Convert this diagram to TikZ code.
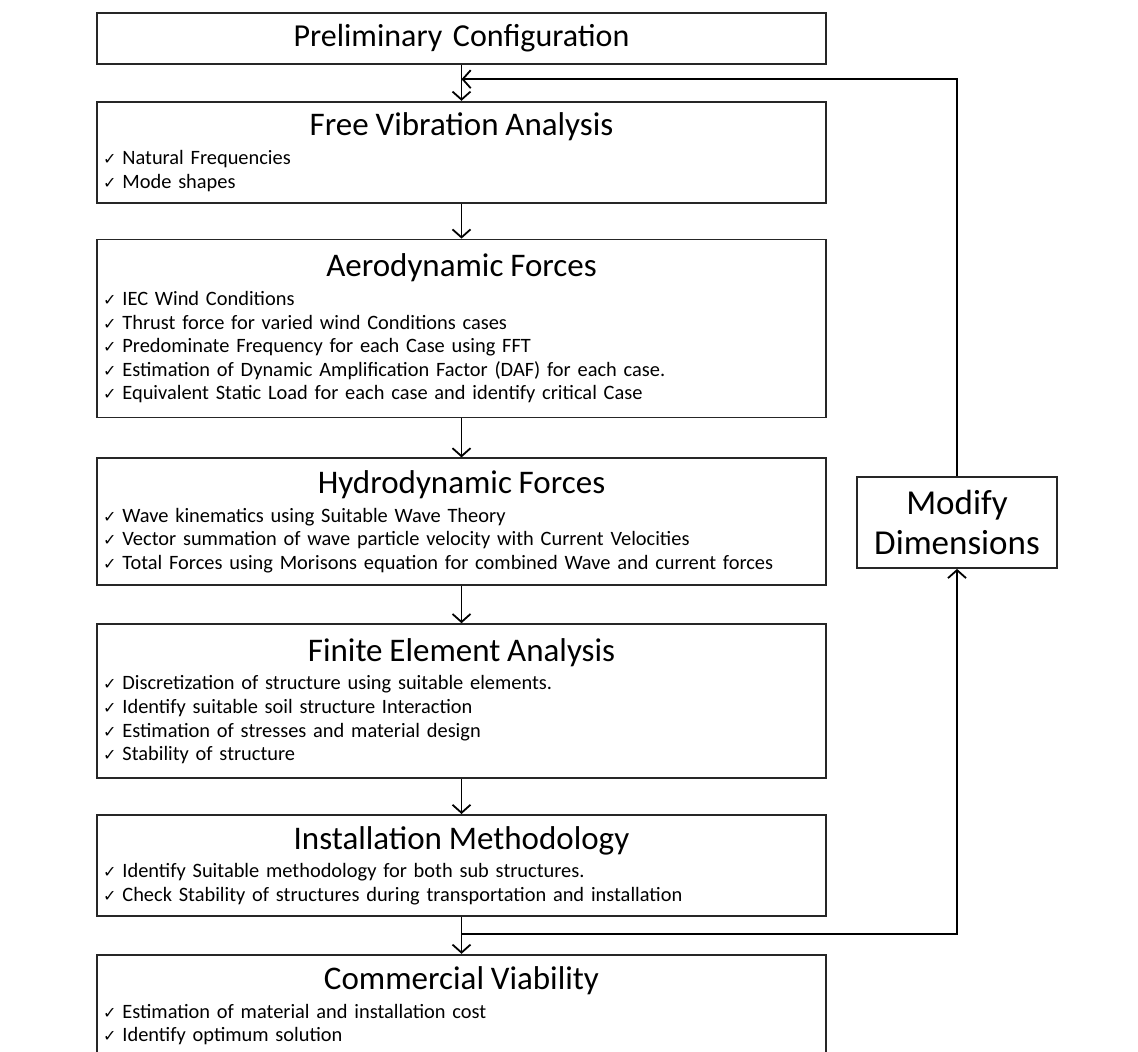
\documentclass[tikz,border=0pt]{standalone}
\usepackage{fontspec}
\setmainfont{Carlito}
\newfontfamily\symfont{DejaVu Sans}
\usepackage{tikz}
\usetikzlibrary{arrows,arrows.meta,shapes,calc}
\usetikzlibrary{positioning}
\newcommand{\tick}{{\symfont\fontsize{8}{12}\selectfont ✓}\hspace{3pt}}
\newcommand{\stagetitle}[1]{{\centering\fontsize{16.5}{18}\selectfont #1\par}\vspace{2.5pt}}
\tikzstyle{box_style0}=[draw=black!85, line width=0.9pt, anchor=north,
inner xsep=3pt, inner ysep=2pt]
\tikzstyle{box_stage}=[box_style0, text width=358.5pt, font=\fontsize{10.2}{11.8}\selectfont]
\tikzstyle{box_modify}=[box_style0, anchor=center, minimum width=100pt, minimum height=45.5pt,
align=center, font=\fontsize{17.5}{20}\selectfont]
\tikzstyle{myarrow}=[-{Straight Barb[length=4pt,width=9pt]}, line width=0.9pt]

\begin{document}
\begin{tikzpicture}[x=0.5pt, y=-0.5pt]
		\useasboundingbox (0,0) rectangle (1138,1052);
		\clip (0,0) rectangle (1138,1052);

		\node[box_stage, minimum height=25.5pt, font=\fontsize{16}{18}\selectfont, align=center] (prelim) at (461.5,12) {Preliminary Configuration} ;

		\node[box_stage, minimum height=50.5pt, below=18pt of prelim] (free) {\stagetitle{Free Vibration Analysis}
			\tick Natural Frequencies\par
			\tick Mode shapes} ;
		\draw[myarrow] (prelim) -- (free) ;

		\node[box_stage, minimum height=89pt, below=17.5pt of free] (aero) {\stagetitle{Aerodynamic Forces}
			\tick IEC Wind Conditions\par
			\tick Thrust force for varied wind Conditions cases\par
			\tick Predominate Frequency for each Case using FFT\par
			\tick Estimation of Dynamic Amplification Factor (DAF) for each case.\par
			\tick Equivalent Static Load for each case and identify critical Case} ;
		\draw[myarrow] (free) -- (aero) ;

		\node[box_stage, minimum height=63.5pt, below=19.5pt of aero] (hydro) {\stagetitle{Hydrodynamic Forces}
			\tick Wave kinematics using Suitable Wave Theory\par
			\tick Vector summation of wave particle velocity with Current Velocities\par
			\tick Total Forces using Morisons equation for combined Wave and current forces} ;
		\draw[myarrow] (aero) -- (hydro) ;

		\node[box_stage, minimum height=77pt, below=18.5pt of hydro] (fea) {\stagetitle{Finite Element Analysis}
			\tick Discretization of structure using suitable elements.\par
			\tick Identify suitable soil structure Interaction\par
			\tick Estimation of stresses and material design\par
			\tick Stability of structure} ;
		\draw[myarrow] (hydro) -- (fea) ;

		\node[box_stage, minimum height=50.5pt, below=17.5pt of fea] (install) {\stagetitle{Installation Methodology}
			\tick Identify Suitable methodology for both sub structures.\par
			\tick Check Stability of structures during transportation and installation} ;
		\draw[myarrow] (fea) -- (install) ;

		\node[box_stage, minimum height=51pt, below=18.5pt of install] (commercial) {\stagetitle{Commercial Viability}
			\tick Estimation of material and installation cost\par
			\tick Identify optimum solution} ;
		\draw[myarrow] (install) -- (commercial) ;

		% loop back through the modify box
		\node[box_modify] (modify) at (957,522.5) {Modify\\Dimensions} ;
		\coordinate (split) at ($(install.south)!0.47!(commercial.north)$) ;
		\coordinate (join) at ($(prelim.south)!0.4!(free.north)$) ;
		\draw[myarrow] (split) -| (modify.south) ;
		\draw[myarrow] (modify.north) |- (join) ;

	\end{tikzpicture}
\end{document}
